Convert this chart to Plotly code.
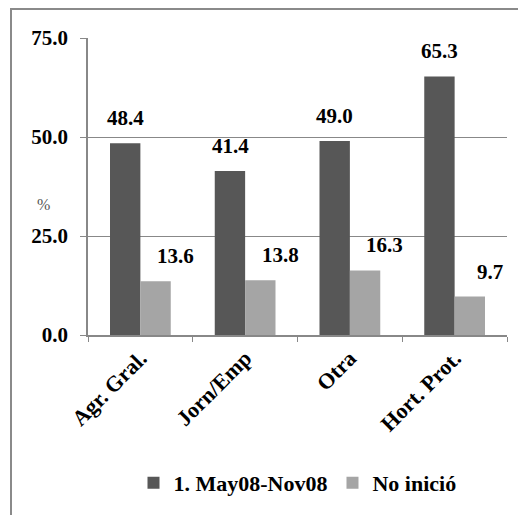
import plotly.graph_objects as go

categories = ["Agr. Gral.", "Jorn/Emp", "Otra", "Hort. Prot."]
series_names = ["1. May08-Nov08", "No inició"]
values_may = [48.4, 41.4, 49.0, 65.3]
values_no = [13.6, 13.8, 16.3, 9.7]
y_ticks = [0, 25, 50, 75]

FONT = "Liberation Serif, DejaVu Serif, serif"
dark = "#575757"
light = "#a5a5a5"

# plot area in figure pixels
L, R, T, B = 80, 499, 30, 328
W, H = 518, 507
pw, ph = R - L, B - T

fig = go.Figure()
fig.add_trace(go.Bar(x=categories, y=values_may, name=f"<b>{series_names[0]}</b>",
                     marker=dict(color=dark, line=dict(width=0))))
fig.add_trace(go.Bar(x=categories, y=values_no, name=f"<b>{series_names[1]}</b>",
                     marker=dict(color=light, line=dict(width=0))))

annotations = []
for c, v in zip(categories, values_may):
    annotations.append(dict(x=c, y=v, text=f"<b>{v:.1f}</b>", showarrow=False,
                            xref="x", yref="y", yanchor="bottom", xshift=-15, yshift=11,
                            font=dict(family=FONT, size=21, color="#000")))
for c, v in zip(categories, values_no):
    annotations.append(dict(x=c, y=v, text=f"<b>{v:.1f}</b>", showarrow=False,
                            xref="x", yref="y", yanchor="bottom", xshift=35, yshift=11,
                            font=dict(family=FONT, size=21, color="#000")))
annotations.append(dict(x=(35 - L) / pw, y=(B - 197) / ph, xref="paper", yref="paper", text="%",
                        showarrow=False, xanchor="center", yanchor="middle",
                        font=dict(family=FONT, size=16, color="#555")))

fig.update_layout(
    width=W, height=H,
    margin=dict(l=L, r=W - R, t=T, b=H - B),
    paper_bgcolor="white", plot_bgcolor="white",
    barmode="group", bargap=0.42, bargroupgap=0,
    font=dict(family=FONT, size=20, color="#000"),
    showlegend=True,
    legend=dict(orientation="h", x=0.5, xanchor="center", y=(B - 475) / ph, yanchor="middle",
                font=dict(family=FONT, size=22, color="#000"),
                itemwidth=30, traceorder="normal"),
    annotations=annotations,
    xaxis=dict(showgrid=False, showline=True, linecolor="#888", linewidth=1.5,
               ticks="outside", tickson="boundaries", ticklen=5, tickcolor="#888",
               tickangle=-45, tickfont=dict(family=FONT, size=22, color="#000", weight="bold")),
    yaxis=dict(range=[0, 75], tickvals=y_ticks, tickformat=".1f", showgrid=True,
               gridcolor="#888", gridwidth=1.2, showline=True, linecolor="#888", linewidth=1.5,
               ticks="outside", ticklen=6, tickcolor="#888", zeroline=False,
               ticklabelstandoff=8,
               tickfont=dict(family=FONT, size=21, color="#000", weight="bold")),
    shapes=[dict(type="rect", xref="paper", yref="paper",
                 x0=(3 - L) / pw, x1=(560 - L) / pw,
                 y0=(B - 560) / ph, y1=1 + (T - 1) / ph,
                 line=dict(color="#8a8a8a", width=2), fillcolor="rgba(0,0,0,0)", layer="below")],
)

fig.write_html("out.html")
